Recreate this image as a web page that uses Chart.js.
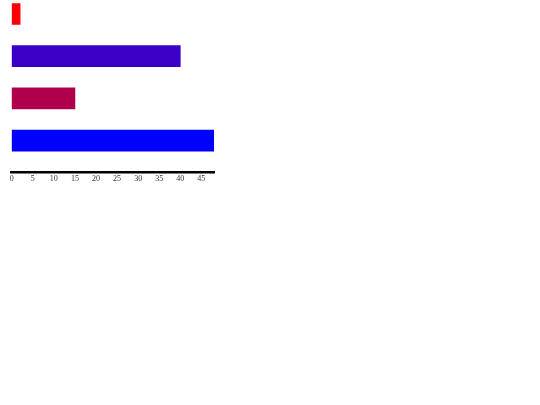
<!DOCTYPE html>
<html>
<head>
<meta charset="utf-8">
<script src="https://cdn.jsdelivr.net/npm/chart.js@4/dist/chart.umd.min.js"></script>
<style>
  html, body { margin: 0; padding: 0; background: #fff; }
  #wrap { position: absolute; left: 0; top: 0; width: 222px; height: 186px; }
</style>
</head>
<body>
<div id="wrap"><canvas id="barChart"></canvas></div>
<script>
// data
const categories = ['A', 'B', 'C', 'D'];
const values = [2, 40, 15, 48];
const emptyValues = [null, null, null, null];
const barColors = ['#ff0000', '#3a00c8', '#b0004b', '#0000ff'];
const xTicks = [0, 5, 10, 15, 20, 25, 30, 35, 40, 45];

document.addEventListener('DOMContentLoaded', function() {
    const ctx = document.getElementById('barChart').getContext('2d');

    new Chart(ctx, {
        type: 'bar',
        data: {
            labels: categories,
            datasets: [{
                label: 'Series 1',
                data: values,
                backgroundColor: barColors,
                borderWidth: 0,
                categoryPercentage: 1,
                barPercentage: 1
            }, {
                label: 'Series 2',
                data: emptyValues,
                backgroundColor: barColors,
                borderWidth: 0,
                categoryPercentage: 1,
                barPercentage: 1
            }]
        },
        options: {
            indexAxis: 'y',
            responsive: true,
            maintainAspectRatio: false,
            animation: false,
            layout: {
                padding: { left: 11.7, top: 3.3, right: 8, bottom: 0 }
            },
            scales: {
                x: {
                    min: 0,
                    max: 48,
                    grid: { display: false, drawTicks: false },
                    border: { display: true, color: '#000', width: 2.5 },
                    afterBuildTicks: function(scale) {
                        scale.ticks = xTicks.map(function(v) { return { value: v }; });
                    },
                    ticks: {
                        padding: 2,
                        color: '#333',
                        maxRotation: 0,
                        font: { family: 'Liberation Serif', size: 8 }
                    }
                },
                y: {
                    display: false
                }
            },
            plugins: {
                legend: { display: false },
                tooltip: { enabled: false }
            }
        }
    });
});
</script>
</body>
</html>
